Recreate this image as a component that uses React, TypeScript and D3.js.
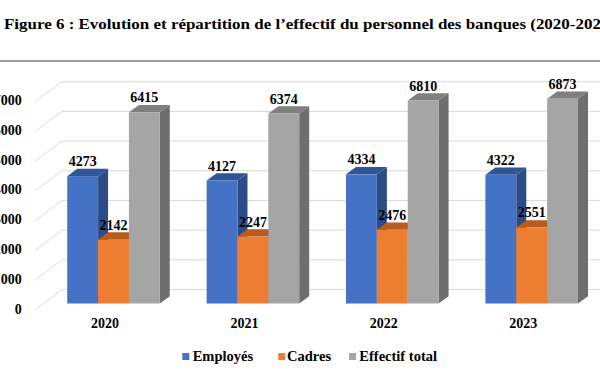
import * as d3 from "d3";

// Chart data
const years = ["2020", "2021", "2022", "2023"];
const series = ["Employés", "Cadres", "Effectif total"];
const employes = [4273, 4127, 4334, 4322];
const cadres = [2142, 2247, 2476, 2551];
const effectifTotal = [6415, 6374, 6810, 6873];
const yTicks = [0, 1000, 2000, 3000, 4000, 5000, 6000, 7000];

const values = [employes, cadres, effectifTotal];
const colors = [
  { front: "#4472C4", top: "#2F5597", side: "#2B4C87" },
  { front: "#ED7D31", top: "#B85C1E", side: "#AE5620" },
  { front: "#A5A5A5", top: "#7F7F7F", side: "#6E6E6E" },
];

const W = 600;
const H = 372;
const FONT = "'Liberation Serif', 'DejaVu Serif', serif";

// 3D depth offset of the bars
const DX = 10;
const DY = -7.3;

function App() {
  const x = d3.scaleBand().domain(years).range([43.8, 601.4]).paddingInner(0.336).paddingOuter(0.168);
  const xs = d3.scaleBand().domain(series).range([0, x.bandwidth()]);

  // bars sit mid-depth, gridlines on back wall, tick labels on front edge
  const yBar = d3.scaleLinear().domain([0, 7000]).range([303.5, 303.5 - 7000 * 0.0298]);
  const yBack = d3.scaleLinear().domain([0, 7000]).range([289.5, 81.7]);
  const yFront = d3.scaleLinear().domain([0, 7000]).range([310, 101.7]);
  const wallX = 62;
  const frontX = 35;

  return (
    <svg width={W} height={H} style={{ position: "absolute", left: 0, top: 0, background: "#fff" }}>
      <text
        x={4}
        y={29}
        fontFamily={FONT}
        fontWeight="bold"
        fontSize={14}
        fill="#000"
        textLength={611}
        lengthAdjust="spacingAndGlyphs"
      >
        Figure 6 : Evolution et répartition de l’effectif du personnel des banques (2020-2023)
      </text>
      <line x1={0} x2={W} y1={61} y2={61} stroke="#808080" strokeWidth={1.5} />

      {yTicks.map((t) => (
        <g key={t}>
          <line x1={frontX} y1={yFront(t)} x2={wallX} y2={yBack(t)} stroke="#D9D9D9" strokeWidth={1} />
          <line x1={wallX} y1={yBack(t)} x2={W} y2={yBack(t)} stroke="#D9D9D9" strokeWidth={1} />
          <text
            x={21.7}
            y={yFront(t) - 1}
            textAnchor="end"
            dominantBaseline="central"
            fontFamily={FONT}
            fontWeight="bold"
            fontSize={14}
            fill="#000"
          >
            {t}
          </text>
        </g>
      ))}

      {years.map((yr, i) => {
        const gx = x(yr)!;
        return (
          <g key={yr}>
            {series.map((s, j) => {
              const v = values[j][i];
              const x0 = gx + xs(s)!;
              const x1 = x0 + xs.bandwidth();
              const y0 = yBar(0);
              const y1 = yBar(v);
              const c = colors[j];
              return (
                <g key={s}>
                  <polygon
                    points={`${x1},${y1} ${x1 + DX},${y1 + DY} ${x1 + DX},${y0 + DY} ${x1},${y0}`}
                    fill={c.side}
                  />
                  <polygon
                    points={`${x0},${y1} ${x0 + DX},${y1 + DY} ${x1 + DX},${y1 + DY} ${x1},${y1}`}
                    fill={c.top}
                  />
                  <rect x={x0} y={y1} width={x1 - x0} height={y0 - y1} fill={c.front} />
                </g>
              );
            })}
            {series.map((s, j) => {
              const v = values[j][i];
              const cx = gx + xs(s)! + xs.bandwidth() / 2;
              return (
                <text
                  key={s}
                  x={cx}
                  y={yBar(v) - 10}
                  textAnchor="middle"
                  fontFamily={FONT}
                  fontWeight="bold"
                  fontSize={14}
                  fill="#000"
                >
                  {v}
                </text>
              );
            })}
            <text
              x={gx + x.bandwidth() / 2 - 8.5}
              y={328}
              textAnchor="middle"
              fontFamily={FONT}
              fontWeight="bold"
              fontSize={14}
              fill="#000"
            >
              {yr}
            </text>
          </g>
        );
      })}

      {[
        { sx: 182.3, tx: 192.7 },
        { sx: 278.3, tx: 287 },
        { sx: 349, tx: 359.3 },
      ].map((p, j) => (
        <g key={series[j]}>
          <rect x={p.sx} y={353} width={7} height={7} fill={colors[j].front} />
          <text x={p.tx} y={360.5} fontFamily={FONT} fontWeight="bold" fontSize={14.5} fill="#000">
            {series[j]}
          </text>
        </g>
      ))}
    </svg>
  );
}

export default App;
